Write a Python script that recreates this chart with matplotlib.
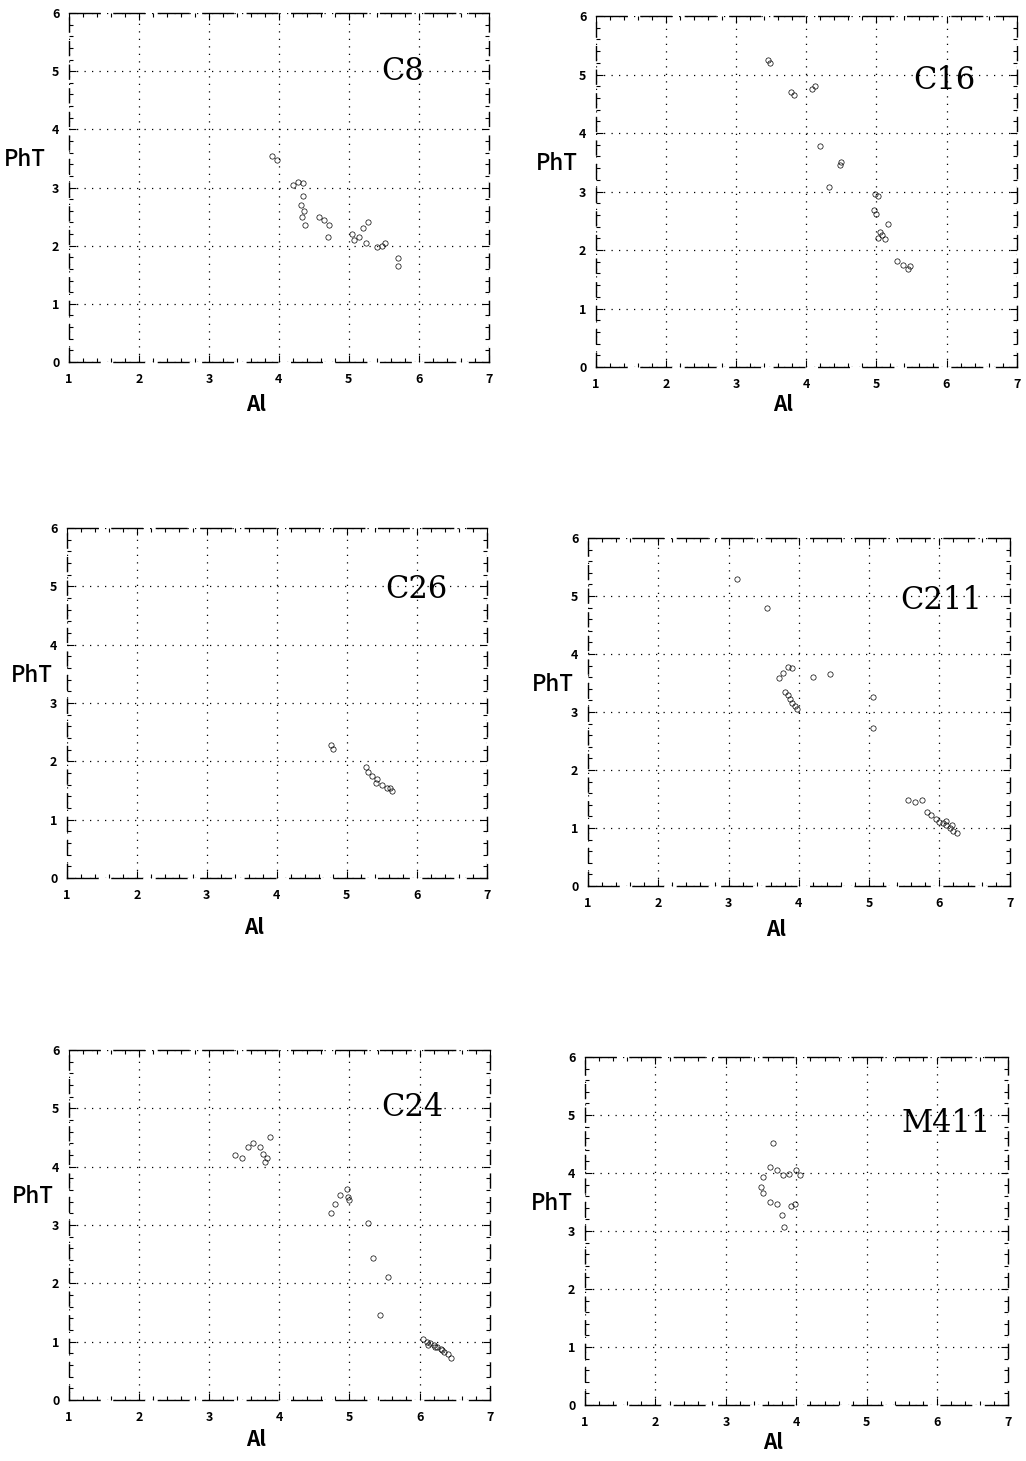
import matplotlib
matplotlib.use('Agg')
from matplotlib import pyplot as plt
from matplotlib.ticker import MultipleLocator

# panel names, in reading order
names = ['C8', 'C16', 'C26', 'C211', 'C24', 'M411']

# Al / PhT values
c8_al = [3.90, 3.98, 4.20, 4.28, 4.35, 4.35, 4.32, 4.36, 4.33, 4.38, 4.58, 4.65, 4.72, 4.70,
         5.05, 5.08, 5.15, 5.20, 5.28, 5.25, 5.40, 5.48, 5.52, 5.70, 5.70]
c8_pht = [3.55, 3.48, 3.05, 3.10, 3.08, 2.85, 2.70, 2.60, 2.50, 2.35, 2.50, 2.45, 2.35, 2.15,
          2.20, 2.10, 2.15, 2.30, 2.40, 2.05, 1.97, 2.00, 2.05, 1.78, 1.65]

c16_al = [3.45, 3.48, 3.78, 3.82, 4.08, 4.12, 4.20, 4.50, 4.48, 4.32, 4.98, 5.02, 4.97, 5.00,
          5.05, 5.08, 5.12, 5.02, 5.17, 5.30, 5.38, 5.45, 5.48]
c16_pht = [5.25, 5.20, 4.70, 4.65, 4.75, 4.80, 3.78, 3.50, 3.45, 3.08, 2.95, 2.92, 2.68, 2.62,
           2.30, 2.25, 2.18, 2.20, 2.45, 1.82, 1.75, 1.68, 1.72]

c26_al = [4.78, 4.80, 5.27, 5.30, 5.36, 5.43, 5.42, 5.50, 5.57, 5.62, 5.65]
c26_pht = [2.28, 2.22, 1.90, 1.82, 1.75, 1.70, 1.63, 1.60, 1.55, 1.55, 1.50]

c211_al = [3.12, 3.55, 3.72, 3.78, 3.85, 3.90, 3.80, 3.85, 3.88, 3.90, 3.95, 3.98, 4.20, 4.44,
           5.06, 5.06, 5.55, 5.65, 5.75, 5.82, 5.88, 5.95, 6.00, 6.05, 6.10, 6.15, 6.20, 6.25,
           6.10, 6.18]
c211_pht = [5.30, 4.80, 3.58, 3.68, 3.78, 3.75, 3.35, 3.30, 3.22, 3.15, 3.10, 3.05, 3.60, 3.65,
            3.25, 2.72, 1.48, 1.45, 1.48, 1.28, 1.22, 1.15, 1.10, 1.08, 1.05, 1.00, 0.95, 0.92,
            1.12, 1.05]

c24_al = [3.36, 3.46, 3.55, 3.63, 3.72, 3.77, 3.82, 3.79, 3.86, 4.74, 4.79, 4.86, 4.96, 4.98,
          5.00, 5.27, 5.33, 5.55, 5.43, 6.05, 6.10, 6.15, 6.20, 6.25, 6.30, 6.35, 6.40, 6.45,
          6.12, 6.22, 6.32]
c24_pht = [4.20, 4.14, 4.34, 4.40, 4.34, 4.22, 4.14, 4.08, 4.50, 3.20, 3.35, 3.52, 3.62, 3.48,
           3.42, 3.03, 2.43, 2.10, 1.46, 1.05, 1.00, 0.98, 0.95, 0.90, 0.88, 0.82, 0.78, 0.72,
           0.95, 0.90, 0.85]

m411_al = [3.67, 3.62, 3.72, 3.81, 3.90, 4.00, 4.05, 3.53, 3.50, 3.53, 3.62, 3.72, 3.79, 3.83,
           3.93, 3.98]
m411_pht = [4.51, 4.11, 4.05, 3.96, 3.99, 4.05, 3.96, 3.93, 3.76, 3.65, 3.50, 3.47, 3.27, 3.07,
            3.44, 3.47]

al_data = [c8_al, c16_al, c26_al, c211_al, c24_al, m411_al]
pht_data = [c8_pht, c16_pht, c26_pht, c211_pht, c24_pht, m411_pht]

# where each panel's name sits (data coords)
name_x = [5.77, 5.97, 6.00, 6.03, 5.89, 6.13]
name_y = [4.99, 4.90, 4.94, 4.93, 5.02, 4.86]

x_ticks = [1, 2, 3, 4, 5, 6, 7]
y_ticks = [0, 1, 2, 3, 4, 5, 6]

# axes rectangles in figure fractions
boxes = [
    [0.0673, 0.7522, 0.409, 0.2389],
    [0.5809, 0.7488, 0.410, 0.2402],
    [0.0653, 0.3990, 0.409, 0.2396],
    [0.5731, 0.3936, 0.411, 0.2382],
    [0.0673, 0.0418, 0.410, 0.2396],
    [0.5702, 0.0383, 0.412, 0.2382],
]
# x-label distance under the axis, axes fraction
al_drop = [0.123, 0.108, 0.140, 0.126, 0.114, 0.109]
pht_left = [-0.105, -0.093, -0.083, -0.083, -0.086, -0.078]

sans = ['Noto Sans CJK JP', 'DejaVu Sans']

fig = plt.figure(figsize=(10.26, 14.61), dpi=100)

for i, name in enumerate(names):
    ax = fig.add_axes(boxes[i])
    ax.set_xlim(1, 7)
    ax.set_ylim(0, 6)
    ax.set_xticks(x_ticks)
    ax.set_yticks(y_ticks)
    ax.xaxis.set_minor_locator(MultipleLocator(0.2))
    ax.yaxis.set_minor_locator(MultipleLocator(0.2))
    ax.tick_params(which='both', direction='in', top=True, right=True, width=0.8, color='k')
    ax.tick_params(which='major', length=5)
    ax.tick_params(which='minor', length=3)
    ax.tick_params(axis='y', pad=7)
    ax.tick_params(axis='x', pad=8)
    for lab in ax.get_xticklabels() + ax.get_yticklabels():
        lab.set_family(sans)
        lab.set_fontweight('bold')
        lab.set_fontsize(9)

    ax.grid(True, which='major', linestyle=(0, (1, 5)), linewidth=0.9, color='k')
    for side, sp in ax.spines.items():
        sp.set_linewidth(1.0)
        if side in ('top', 'bottom'):
            sp.set_linestyle((0, (22, 10)))
        else:
            sp.set_linestyle((0, (10, 7)))

    ax.plot(al_data[i], pht_data[i], 'o', markersize=3.8, markerfacecolor='none',
            markeredgecolor='k', markeredgewidth=0.5)

    ax.text(name_x[i], name_y[i], name, ha='center', va='center', fontsize=22,
            family=['DejaVu Serif'])

    ax.set_xlabel('Al', family=sans, fontweight='bold', fontsize=15, va='center')
    ax.xaxis.set_label_coords(0.445, -al_drop[i])
    ax.set_ylabel('PhT', family=sans, fontweight='medium', fontsize=16, rotation=0,
                  ha='center', va='center')
    ax.yaxis.set_label_coords(pht_left[i], 0.58)

plt.savefig('out.png', dpi=100)
plt.close()
